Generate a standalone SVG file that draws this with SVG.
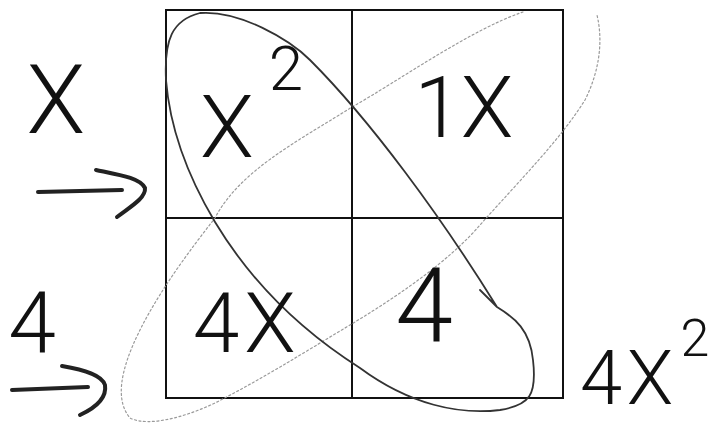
<svg xmlns="http://www.w3.org/2000/svg" width="719" height="425" viewBox="0 0 719 425">
<style>
.t{font-family:Roboto,"Liberation Sans",sans-serif;font-weight:300;fill:#111;text-anchor:middle}
.grid{fill:none;stroke:#111;stroke-width:2}
.ink{fill:none;stroke:#222;stroke-width:4;stroke-linecap:round;stroke-linejoin:round}
.loop{fill:none;stroke:#333;stroke-width:1.8;stroke-linecap:round}
.faint{fill:none;stroke:#9a9a9a;stroke-width:1.2;stroke-dasharray:2 2.5;stroke-linecap:round}
</style>
<rect width="719" height="425" fill="#fff"/>
<g id="grid">
<rect class="grid" x="166" y="10" width="397" height="388"/>
<line class="grid" x1="352" y1="10" x2="352" y2="398"/>
<line class="grid" x1="166" y1="218" x2="563" y2="218"/>
</g>
<g id="loops">
<path class="faint" d="M523,12 C470,30 400,80 352,107 C300,140 240,170 215,218 C190,250 160,290 140,330 C120,370 115,400 130,418 C150,428 190,415 215,403 C260,380 300,355 350,325 C400,295 450,260 480,225 C520,180 560,140 585,100 C600,70 603,40 597,15"/>
<path class="loop" d="M497,307 C515,318 530,330 533,360 C537,395 530,405 500,410 C460,415 410,405 360,368 C300,330 250,280 215,222 C190,180 170,130 166,80 C164,40 172,20 200,13 C240,10 290,40 310,60 C370,120 440,215 497,307 C490,300 485,295 480,290"/>
</g>
<g id="arrows">
<path class="ink" d="M38,192 L122,190 M96,170 C120,175 140,178 145,188 C146,198 130,207 117,217"/>
<path class="ink" d="M12,390 L88,387 M62,366 C85,370 102,375 105,385 C107,398 95,408 80,415"/>
</g>
<g id="labels-left">
<text class="t" x="56" y="133" font-size="96">X</text>
<text class="t" x="32" y="352" font-size="86">4</text>
</g>
<g id="cell-x2">
<text class="t" x="227" y="157" font-size="88">X</text>
<text class="t" x="286" y="90" font-size="62">2</text>
</g>
<g id="cell-1x">
<text class="t" font-size="86" y="137"><tspan x="438">1</tspan><tspan x="487">X</tspan></text>
</g>
<g id="cell-4x">
<text class="t" font-size="84" y="352"><tspan x="216">4</tspan><tspan x="270">X</tspan></text>
</g>
<g id="cell-4">
<text class="t" x="424" y="342" font-size="104">4</text>
</g>
<g id="result">
<text class="t" font-size="76" y="404"><tspan x="601">4</tspan><tspan x="650">X</tspan></text>
<text class="t" x="695" y="356" font-size="52">2</text>
</g>
</svg>
